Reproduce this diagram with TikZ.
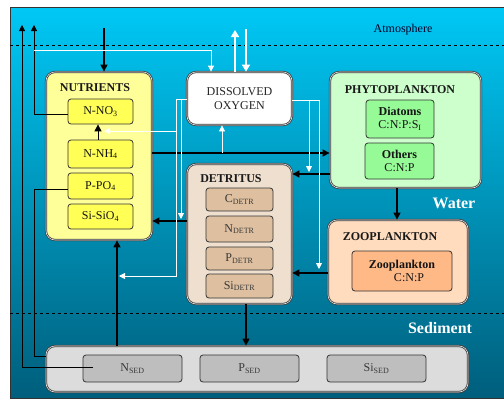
\documentclass[tikz,border=0pt]{standalone}
\usepackage{fontspec}
\setmainfont{Liberation Serif}
\usetikzlibrary{arrows.meta}
\definecolor{bgtop}{RGB}{0,200,245}
\definecolor{bgbot}{RGB}{0,94,124}
\definecolor{nutF}{RGB}{255,255,153}
\definecolor{nutI}{RGB}{255,255,85}
\definecolor{phyF}{RGB}{204,255,204}
\definecolor{phyI}{RGB}{150,250,150}
\definecolor{detF}{RGB}{238,223,207}
\definecolor{detI}{RGB}{222,192,160}
\definecolor{zooF}{RGB}{255,220,190}
\definecolor{zooI}{RGB}{255,185,135}
\definecolor{sedF}{RGB}{220,220,220}
\definecolor{sedI}{RGB}{190,190,190}
\begin{document}
\begin{tikzpicture}[x=1pt,y=-1pt,
  box/.style={draw=black!75, double=black!12, double distance=0.6pt, line width=0.8pt, rounded corners=9pt, inner sep=0pt},
  ibox/.style={draw=black!80, line width=0.8pt, rounded corners=3pt, inner sep=0pt, align=center, text=black!92, font=\fontsize{12}{13.5}\selectfont},
  ttl/.style={font=\bfseries\fontsize{12}{13}\selectfont, text=black!90, inner sep=0pt},
  blk/.style={black, line width=1.3pt, -{Triangle[length=7pt,width=7pt]}},
  thinblk/.style={black, line width=0.8pt},
  thinarr/.style={black, line width=0.8pt, -{Triangle[length=6pt,width=6pt]}},
  wht/.style={white, line width=0.8pt, -{Triangle[length=6pt,width=6pt]}},
  whtk/.style={white, line width=2pt, -{Triangle[length=7pt,width=8pt]}}
]
\useasboundingbox (0,0) rectangle (504,402);
% background
\path[top color=bgtop, bottom color=bgbot, draw=black!80, line width=0.8pt] (10,7) rectangle (506,398);
\draw[black, dashed, line width=0.6pt] (10,45) -- (504,45);
\draw[black, dashed, line width=0.6pt] (10,313) -- (504,313);
\node[font=\fontsize{12}{13}\selectfont, text=black!85!blue] (atm) at (403,30) {Atmosphere};
\node[font=\bfseries\fontsize{16}{18}\selectfont, text=white] (wat) at (454,203) {Water};
\node[font=\bfseries\fontsize{16}{18}\selectfont, text=white] (sedl) at (440,328) {Sediment};

% main boxes
\node[box, fill=white, minimum width=105pt, minimum height=53pt, align=center, text=black!85, font=\fontsize{12}{14}\selectfont] (do) at (239.5,98.5) {DISSOLVED\\OXYGEN};
\node[box, fill=nutF, minimum width=106pt, minimum height=168pt] (nut) at (99,156) {};
\node[box, fill=phyF, minimum width=151pt, minimum height=116pt] (phy) at (405.5,130) {};
\node[box, fill=detF, minimum width=105pt, minimum height=140pt] (det) at (239.5,234) {};
\node[box, fill=zooF, minimum width=140pt, minimum height=84pt] (zoo) at (398,262) {};
\node[box, fill=sedF, minimum width=422pt, minimum height=46pt] (sed) at (257,369) {};

% titles
\node[ttl] (nutT) at (95,88) {NUTRIENTS};
\node[ttl] (phyT) at (400,90) {PHYTOPLANKTON};
\node[ttl] (detT) at (231,179) {DETRITUS};
\node[ttl] (zooT) at (390,237) {ZOOPLANKTON};

% nutrients inner
\node[ibox, fill=nutI, minimum width=65pt, minimum height=25pt] (no3) at (100.5,111.5) {N-NO\textsubscript{3}};
\node[ibox, fill=nutI, minimum width=65pt, minimum height=28pt] (nh4) at (100.5,154) {N-NH\textsubscript{4}};
\node[ibox, fill=nutI, minimum width=65pt, minimum height=26pt] (po4) at (100.5,186) {P-PO\textsubscript{4}};
\node[ibox, fill=nutI, minimum width=65pt, minimum height=25pt] (sio4) at (100.5,216.5) {Si-SiO\textsubscript{4}};

% phyto inner
\node[ibox, fill=phyI, minimum width=68pt, minimum height=38pt, font=\fontsize{12}{13}\selectfont] (dia) at (400,119) {\textbf{Diatoms}\\C:N:P:S\textsubscript{I}};
\node[ibox, fill=phyI, minimum width=69pt, minimum height=36pt, font=\fontsize{12}{13}\selectfont] (oth) at (399.5,161) {\textbf{Others}\\C:N:P};

% detritus inner
\node[ibox, fill=detI, minimum width=67pt, minimum height=23pt, text=black!78] (cd) at (239.5,199.5) {C\textsubscript{DETR}};
\node[ibox, fill=detI, minimum width=67pt, minimum height=26pt, text=black!78] (nd) at (239.5,229) {N\textsubscript{DETR}};
\node[ibox, fill=detI, minimum width=67pt, minimum height=23pt, text=black!78] (pd) at (239.5,258.5) {P\textsubscript{DETR}};
\node[ibox, fill=detI, minimum width=67pt, minimum height=24pt, text=black!78] (sd) at (239.5,286) {Si\textsubscript{DETR}};

% zoo inner
\node[ibox, fill=zooI, minimum width=100pt, minimum height=40pt, font=\fontsize{12}{13}\selectfont] (zin) at (402,271) {\textbf{Zooplankton}\\\hspace*{14pt}C:N:P};

% sediment inner
\node[ibox, fill=sedI, minimum width=99pt, minimum height=27pt, text=black!78] (nsed) at (132.5,368.5) {N\textsubscript{SED}};
\node[ibox, fill=sedI, minimum width=99pt, minimum height=27pt, text=black!78] (psed) at (249.5,368.5) {P\textsubscript{SED}};
\node[ibox, fill=sedI, minimum width=99pt, minimum height=27pt, text=black!78] (sised) at (376.5,368.5) {Si\textsubscript{SED}};

% coordinates
\coordinate (aN) at (104,28);
\coordinate (up1) at (22,25);
\coordinate (up2) at (34,25);
\coordinate (nsedL) at (93,367);
\coordinate (c34) at (34,356);
\coordinate (xs) at (117,0);
\coordinate (yA) at (0,153);
\coordinate (yB) at (0,174);
\coordinate (yC) at (0,221);
\coordinate (yD) at (0,273);
\coordinate (xZ) at (397,0);
\coordinate (xD) at (246,0);
\coordinate (xN) at (98,0);

% black connectors
\draw[blk] (aN) -- (aN |- nut.north);
\draw[thinarr] (nsedL) -| (up1);
\draw[thinarr] ([yshift=-2.5pt]no3.west) -| (up2);
\draw[thinblk] ([yshift=-3pt]po4.west) -| (c34) -- (c34 -| sed.west);
\draw[blk] (xs |- sed.north) -- (xs |- nut.south);
\draw[blk, line width=1pt] (xN |- nh4.north) -- (xN |- no3.south);
\draw[blk] (nut.east |- yA) -- (phy.west |- yA);
\draw[blk] (phy.west |- yB) -- (det.east |- yB);
\draw[blk] (det.west |- yC) -- (nut.east |- yC);
\draw[blk] (xZ |- phy.south) -- (xZ |- zoo.north);
\draw[blk] (zoo.west |- yD) -- (det.east |- yD);
\draw[blk] (xD |- det.south) -- (xD |- sed.north);

% white connectors
\coordinate (o1) at (235,30);
\coordinate (o2) at (246,29);
\draw[whtk] (o1 |- do.north) -- (o1);
\draw[whtk] (o2) -- (o2 |- do.north);
\coordinate (w0) at (34,50);
\coordinate (w1) at (211,50);
\draw[wht] (w0) -- (w1) -- (w1 |- do.north);
\coordinate (dl) at (176,99);
\coordinate (dlb) at (176,276);
\coordinate (dlt) at (119,276);
\coordinate (dlm) at (176,131);
\coordinate (dlm2) at (104,131);
\coordinate (dl2) at (181,99);
\coordinate (dl2b) at (181,219);
\draw[wht] (do.west |- dl) -| (dlb) -- (dlt);
\draw[wht] (dlm) -- (dlm2);
\draw[wht] (dl2) -- (dl2b);
\coordinate (xo) at (222,0);
\draw[wht] (xo |- yA) -- (xo |- do.south);
\coordinate (dr) at (319,100);
\coordinate (drb) at (319,269);
\coordinate (dr2) at (309,100);
\coordinate (dr2b) at (309,172);
\draw[wht] (do.east |- dr) -| (drb);
\draw[wht] (dr2) -- (dr2b);
\end{tikzpicture}
\end{document}
